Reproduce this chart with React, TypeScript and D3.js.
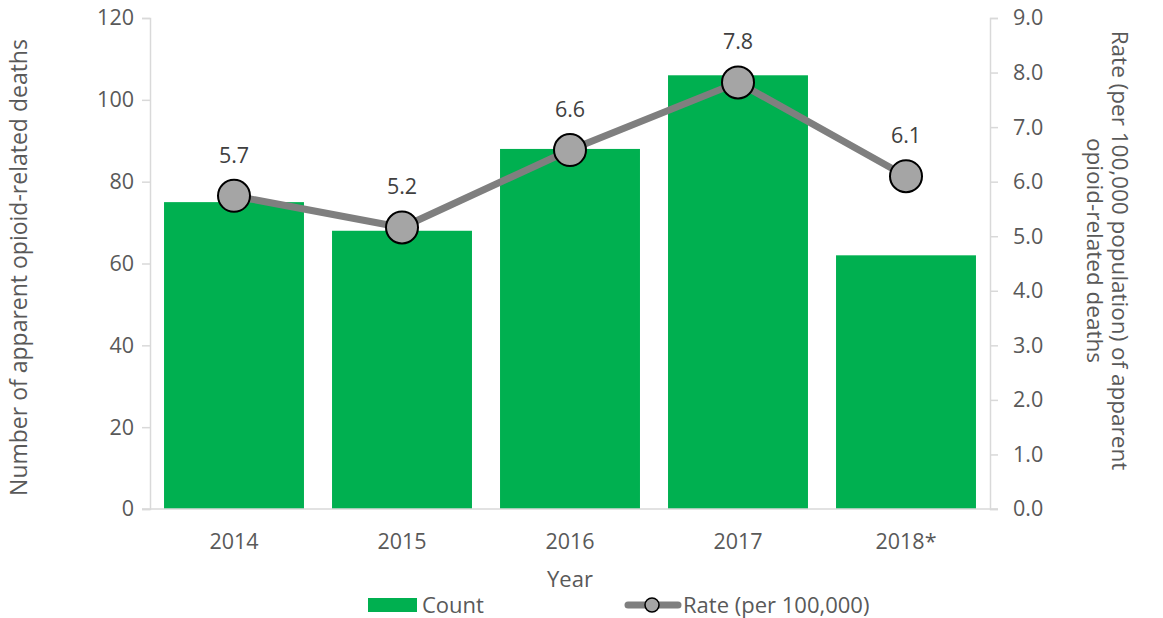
import { useEffect, useRef } from 'react'
import * as d3 from 'd3'

const years = ['2014', '2015', '2016', '2017', '2018*']
const counts = [75, 68, 88, 106, 62]
const rates = [5.74, 5.16, 6.58, 7.82, 6.1]
const rateLabels = ['5.7', '5.2', '6.6', '7.8', '6.1']
const leftTicks = [0, 20, 40, 60, 80, 100, 120]
const rightTicks = [0, 1, 2, 3, 4, 5, 6, 7, 8, 9]

const W = 1163
const H = 618
const FONT = "'Open Sans', 'Noto Sans', sans-serif"

export default function App() {
  const svgRef = useRef<SVGSVGElement>(null)

  useEffect(() => {
    if (!svgRef.current) return
    const svg = d3.select(svgRef.current)
    svg.selectAll('*').remove()

    const left = 150
    const right = 990
    const top = 18
    const bottom = 509

    const x = d3.scaleBand<string>().domain(years).range([left, right]).paddingInner(0.167).paddingOuter(0.0835)
    const yL = d3.scaleLinear().domain([0, 120]).range([bottom, top])
    const yR = d3.scaleLinear().domain([0, 9]).range([bottom, top])

    const axisColor = '#d9d9d9'
    const textColor = '#595959'
    const fs = 21.5

    // bars
    svg
      .append('g')
      .selectAll('rect')
      .data(counts)
      .enter()
      .append('rect')
      .attr('x', (_, i) => x(years[i])!)
      .attr('y', (d) => yL(d))
      .attr('width', x.bandwidth())
      .attr('height', (d) => bottom - yL(d))
      .attr('fill', '#00b050')

    // left axis
    const gl = svg.append('g').attr('transform', `translate(${left},0)`)
    gl.call(d3.axisLeft(yL).tickValues(leftTicks).tickSize(8).tickPadding(8))
    gl.select('.domain').attr('stroke', axisColor).attr('stroke-width', 1.5)
    gl.selectAll('.tick line').attr('stroke', axisColor).attr('stroke-width', 1.5)
    gl.selectAll('.tick text').attr('fill', textColor).attr('font-size', fs).attr('font-family', FONT)

    // right axis
    const gr = svg.append('g').attr('transform', `translate(${right},0)`)
    gr.call(d3.axisRight(yR).tickValues(rightTicks).tickSize(8).tickPadding(15).tickFormat((d) => d3.format('.1f')(d as number)))
    gr.select('.domain').attr('stroke', axisColor).attr('stroke-width', 1.5)
    gr.selectAll('.tick line').attr('stroke', axisColor).attr('stroke-width', 1.5)
    gr.selectAll('.tick text').attr('fill', textColor).attr('font-size', fs).attr('font-family', FONT)

    // bottom axis line
    svg
      .append('line')
      .attr('x1', left - 8)
      .attr('x2', right + 8)
      .attr('y1', bottom)
      .attr('y2', bottom)
      .attr('stroke', axisColor)
      .attr('stroke-width', 1.5)

    // x labels
    svg
      .append('g')
      .selectAll('text')
      .data(years)
      .enter()
      .append('text')
      .attr('x', (d) => x(d)! + x.bandwidth() / 2)
      .attr('y', 549)
      .attr('text-anchor', 'middle')
      .attr('fill', textColor)
      .attr('font-size', fs)
      .attr('font-family', FONT)
      .text((d) => d)

    // line
    const cx = (i: number) => x(years[i])! + x.bandwidth() / 2
    const line = d3
      .line<number>()
      .x((_, i) => cx(i))
      .y((d) => yR(d))
    svg
      .append('path')
      .datum(rates)
      .attr('d', line)
      .attr('fill', 'none')
      .attr('stroke', '#7f7f7f')
      .attr('stroke-width', 7)
      .attr('stroke-linejoin', 'round')

    svg
      .append('g')
      .selectAll('circle')
      .data(rates)
      .enter()
      .append('circle')
      .attr('cx', (_, i) => cx(i))
      .attr('cy', (d) => yR(d))
      .attr('r', 16)
      .attr('fill', '#a5a5a5')
      .attr('stroke', '#000')
      .attr('stroke-width', 2)

    svg
      .append('g')
      .selectAll('text')
      .data(rates)
      .enter()
      .append('text')
      .attr('x', (_, i) => cx(i))
      .attr('y', (d) => yR(d) - 33)
      .attr('text-anchor', 'middle')
      .attr('fill', '#404040')
      .attr('font-size', fs)
      .attr('font-family', FONT)
      .text((_, i) => rateLabels[i])

    // axis titles
    svg
      .append('text')
      .attr('transform', `translate(27,${(top + bottom) / 2 + 4}) rotate(-90)`)
      .attr('text-anchor', 'middle')
      .attr('fill', textColor)
      .attr('font-size', 23)
      .attr('font-family', FONT)
      .text('Number of apparent opioid-related deaths')

    const rt = svg
      .append('text')
      .attr('transform', `translate(1112,${(top + bottom) / 2 - 13}) rotate(90)`)
      .attr('text-anchor', 'middle')
      .attr('fill', textColor)
      .attr('font-size', 22.5)
      .attr('font-family', FONT)
    rt.append('tspan').attr('x', 0).attr('dy', 0).text('Rate (per 100,000 population) of apparent')
    rt.append('tspan').attr('x', 0).attr('dy', 25).text('opioid-related deaths')

    svg
      .append('text')
      .attr('x', (left + right) / 2)
      .attr('y', 587)
      .attr('text-anchor', 'middle')
      .attr('fill', textColor)
      .attr('font-size', 22)
      .attr('font-family', FONT)
      .text('Year')

    // legend
    const ly = 605
    svg.append('rect').attr('x', 368).attr('y', ly - 7).attr('width', 49).attr('height', 14).attr('fill', '#00b050')
    svg
      .append('text')
      .attr('x', 422)
      .attr('y', ly + 8)
      .attr('fill', textColor)
      .attr('font-size', 22)
      .attr('font-family', FONT)
      .text('Count')
    svg
      .append('line')
      .attr('x1', 628)
      .attr('x2', 678)
      .attr('y1', ly)
      .attr('y2', ly)
      .attr('stroke', '#7f7f7f')
      .attr('stroke-width', 7)
      .attr('stroke-linecap', 'round')
    svg
      .append('circle')
      .attr('cx', 652)
      .attr('cy', ly)
      .attr('r', 7)
      .attr('fill', '#a5a5a5')
      .attr('stroke', '#000')
      .attr('stroke-width', 1.5)
    svg
      .append('text')
      .attr('x', 683)
      .attr('y', ly + 8)
      .attr('fill', textColor)
      .attr('font-size', 22)
      .attr('font-family', FONT)
      .text('Rate (per 100,000)')
  }, [])

  return (
    <div style={{ position: 'absolute', left: 0, top: 0 }}>
      <svg ref={svgRef} width={W} height={H} style={{ display: 'block', background: '#fff' }} />
    </div>
  )
}
